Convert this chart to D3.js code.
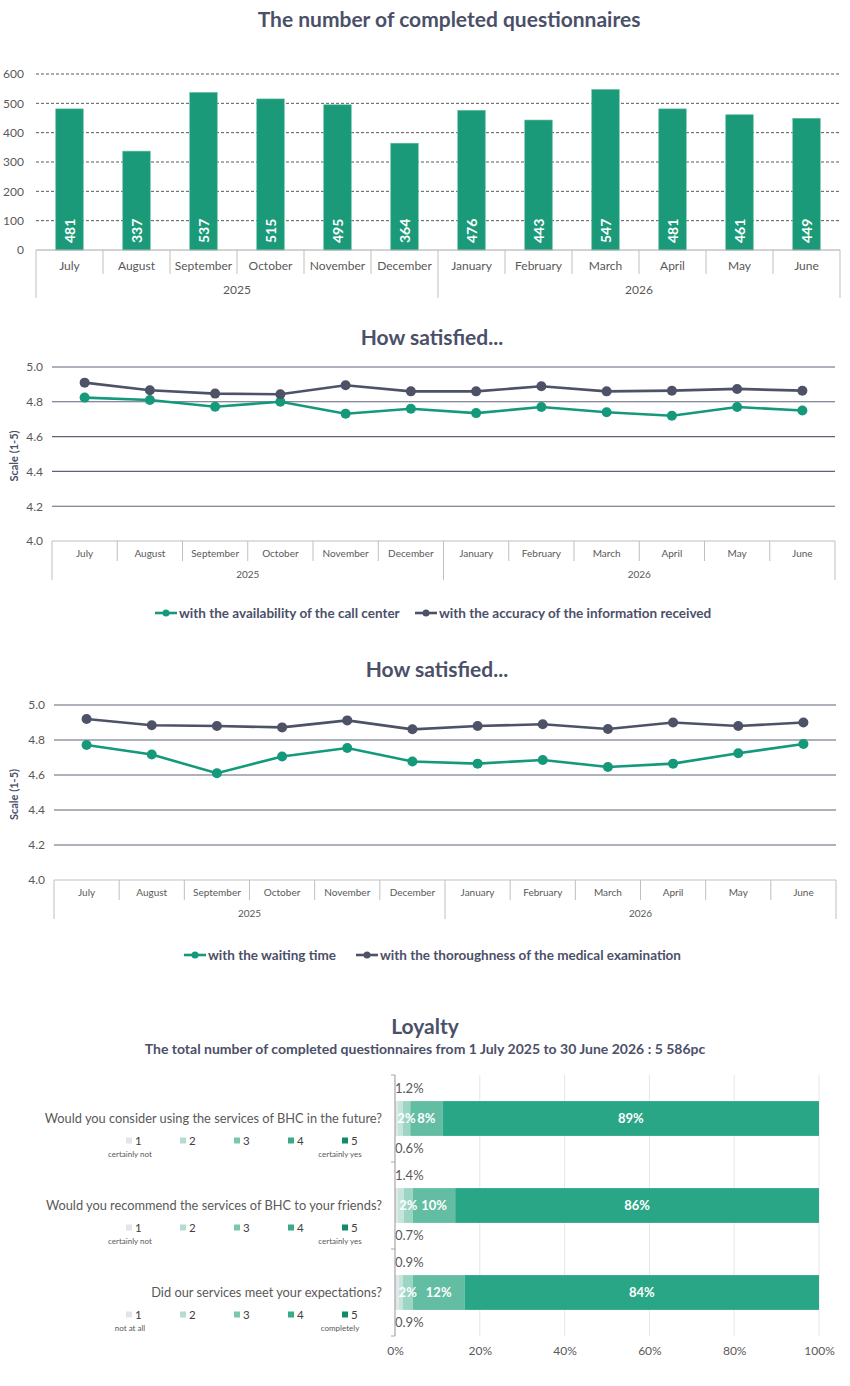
<!DOCTYPE html>
<html>
<head>
<meta charset="utf-8">
<script src="https://cdn.jsdelivr.net/npm/d3@7"></script>
<style>
  body { margin: 0; background: #fff; }
  svg { display: block; font-family: Lato, "Open Sans", sans-serif; }
</style>
</head>
<body>
<div id="chart"></div>
<script>
// ---- data
const months = ["July", "August", "September", "October", "November", "December",
  "January", "February", "March", "April", "May", "June"];
const monthYear = ["2025", "2025", "2025", "2025", "2025", "2025",
  "2026", "2026", "2026", "2026", "2026", "2026"];
const questionnaires = [481, 337, 537, 515, 495, 364, 476, 443, 547, 481, 461, 449];
const countTicks = [0, 100, 200, 300, 400, 500, 600];

const callCenter = [4.824, 4.81, 4.772, 4.80, 4.731, 4.76, 4.735, 4.77, 4.74, 4.72, 4.77, 4.75];
const infoAccuracy = [4.91, 4.866, 4.847, 4.843, 4.895, 4.86, 4.86, 4.889, 4.86, 4.864, 4.874, 4.864];
const waitingTime = [4.771, 4.717, 4.61, 4.706, 4.754, 4.677, 4.665, 4.686, 4.646, 4.665, 4.724, 4.777];
const examThoroughness = [4.92, 4.884, 4.88, 4.872, 4.912, 4.861, 4.88, 4.89, 4.863, 4.90, 4.88, 4.90];
const scaleTicks = [4.0, 4.2, 4.4, 4.6, 4.8, 5.0];

const questions = [
  "Would you consider using the services of BHC in the future?",
  "Would you recommend the services of BHC to your friends?",
  "Did our services meet your expectations?"
];
const scores = ["1", "2", "3", "4", "5"];
const lowEnd = ["certainly not", "certainly not", "not at all"];
const highEnd = ["certainly yes", "certainly yes", "completely"];
const futureUse = [0.6, 1.2, 1.8, 7.6, 88.8];
const recommend = [0.7, 1.4, 2.1, 10.0, 85.8];
const expectations = [0.9, 0.9, 2.4, 12.2, 83.6];
const percentTicks = [0, 20, 40, 60, 80, 100];

// ---- styles
const TITLE = "#4b5069";
const TXT = "#595959";
const GREEN = "#14997a";
const SLATE = "#4e5267";
const AXIS = "#bfbfbf";

const svg = d3.select("#chart").append("svg")
  .attr("width", 850)
  .attr("height", 1386);

function title(txt, x, y, size) {
  svg.append("text")
    .attr("x", x).attr("y", y)
    .attr("text-anchor", "middle")
    .attr("font-size", size)
    .attr("font-weight", "bold")
    .attr("fill", TITLE)
    .text(txt);
}

// two level month / year axis under a chart
function monthAxis(x, base, o) {
  const g = svg.append("g");
  const bw = x.bandwidth();
  g.selectAll("text.m").data(months).join("text")
    .attr("x", d => x(d) + bw / 2)
    .attr("y", base + o.monthDy)
    .attr("text-anchor", "middle")
    .attr("font-size", o.fs)
    .attr("fill", TXT)
    .text(d => d);

  const edges = months.map((m, i) => ({
    x: x(m),
    long: i === 0 || monthYear[i] !== monthYear[i - 1]
  }));
  edges.push({x: x(months[months.length - 1]) + bw, long: true});
  g.selectAll("line.sep").data(edges).join("line")
    .attr("x1", d => d.x).attr("x2", d => d.x)
    .attr("y1", base)
    .attr("y2", d => base + (d.long ? o.yearLen : o.sepLen))
    .attr("stroke", AXIS);

  const groups = d3.groups(months.map((m, i) => ({m, y: monthYear[i]})), d => d.y);
  g.selectAll("text.y").data(groups).join("text")
    .attr("x", d => (x(d[1][0].m) + x(d[1][d[1].length - 1].m) + bw) / 2)
    .attr("y", base + o.yearDy)
    .attr("text-anchor", "middle")
    .attr("font-size", o.fs)
    .attr("fill", TXT)
    .text(d => d[0]);
}

// ---------------- chart 1: completed questionnaires
title("The number of completed questionnaires", 449, 27, 21);

const x1 = d3.scaleBand().domain(months).range([36, 840]);
const xBar = d3.scaleBand().domain(months).range([36, 840])
  .paddingInner(0.59).paddingOuter(0.295);
const y1 = d3.scaleLinear().domain([0, 600]).range([250, 74]);

svg.append("g").selectAll("line").data(countTicks.filter(d => d > 0)).join("line")
  .attr("x1", 36).attr("x2", 840)
  .attr("y1", d => y1(d)).attr("y2", d => y1(d))
  .attr("stroke", "#5a5a5a")
  .attr("stroke-dasharray", "3,2");

svg.append("g")
  .attr("transform", "translate(36,0)")
  .call(d3.axisLeft(y1).tickValues(countTicks).tickSize(0).tickPadding(12))
  .call(g => g.select(".domain").remove())
  .selectAll("text")
  .attr("font-size", 12)
  .attr("font-family", "Lato")
  .attr("fill", TXT);

svg.append("g").selectAll("rect").data(questionnaires).join("rect")
  .attr("x", (d, i) => xBar(months[i]))
  .attr("width", xBar.bandwidth())
  .attr("y", d => y1(d))
  .attr("height", d => y1(0) - y1(d))
  .attr("fill", "#1a9a78")
  .attr("stroke", "#5cbba0")
  .attr("stroke-width", 0.6);

svg.append("g").selectAll("text").data(questionnaires).join("text")
  .attr("transform", (d, i) => `translate(${xBar(months[i]) + xBar.bandwidth() / 2},243) rotate(-90)`)
  .attr("dy", "0.36em")
  .attr("font-size", 14)
  .attr("font-weight", "bold")
  .attr("fill", "#fff")
  .text(d => d);

svg.append("line")
  .attr("x1", 36).attr("x2", 840).attr("y1", y1(0)).attr("y2", y1(0))
  .attr("stroke", "#a6a6a6");
monthAxis(x1, 250, {monthDy: 20, yearDy: 44, sepLen: 24, yearLen: 48, fs: 12});

// ---------------- line charts
function lineChart(o) {
  title("How satisfied...", o.titleX, o.titleY, 21);
  const x = d3.scaleBand().domain(months).range([o.left, o.right]);
  const y = d3.scaleLinear().domain([4, 5]).range([o.bottom, o.top]);

  svg.append("g").selectAll("line").data(scaleTicks.filter(d => d > 4)).join("line")
    .attr("x1", o.left).attr("x2", o.right)
    .attr("y1", d => y(d)).attr("y2", d => y(d))
    .attr("stroke", "#5f6377")
    .attr("stroke-width", 1.1);
  svg.append("line")
    .attr("x1", o.left).attr("x2", o.right).attr("y1", y(4)).attr("y2", y(4))
    .attr("stroke", AXIS);

  svg.append("g")
    .attr("transform", `translate(${o.left},0)`)
    .call(d3.axisLeft(y).tickValues(scaleTicks).tickFormat(d3.format(".1f")).tickSize(0).tickPadding(9))
    .call(g => g.select(".domain").remove())
    .selectAll("text")
    .attr("font-size", 12)
    .attr("font-family", "Lato")
    .attr("fill", TXT);

  svg.append("text")
    .attr("transform", `translate(18,${(o.top + o.bottom) / 2 + 2}) rotate(-90)`)
    .attr("text-anchor", "middle")
    .attr("font-size", 11)
    .attr("font-weight", "bold")
    .attr("fill", TITLE)
    .text("Scale (1-5)");

  monthAxis(x, o.bottom, {monthDy: 16, yearDy: 37, sepLen: 20, yearLen: 39, fs: 10});

  const cx = m => x(m) + x.bandwidth() / 2;
  const line = d3.line().x((d, i) => cx(months[i])).y(d => y(d));
  o.series.forEach(s => {
    svg.append("path")
      .datum(s.values)
      .attr("d", line)
      .attr("fill", "none")
      .attr("stroke", s.color)
      .attr("stroke-width", 2.6);
    svg.append("g").selectAll("circle").data(s.values).join("circle")
      .attr("cx", (d, i) => cx(months[i]))
      .attr("cy", d => y(d))
      .attr("r", 5)
      .attr("fill", s.color);
  });

  // legend
  o.series.forEach((s, k) => {
    const lx = o.legendX[k];
    svg.append("line")
      .attr("x1", lx).attr("x2", lx + 22)
      .attr("y1", o.legendY).attr("y2", o.legendY)
      .attr("stroke", s.color).attr("stroke-width", 2.6);
    svg.append("circle")
      .attr("cx", lx + 11).attr("cy", o.legendY).attr("r", 3.5)
      .attr("fill", s.color);
    svg.append("text")
      .attr("x", lx + 24).attr("y", o.legendY)
      .attr("dy", "0.35em")
      .attr("font-size", 13.5)
      .attr("font-weight", "bold")
      .attr("fill", TITLE)
      .text(s.name);
  });
}

lineChart({
  titleX: 432, titleY: 345, left: 52, right: 835, top: 367, bottom: 541,
  legendY: 613, legendX: [155, 415],
  series: [
    {name: "with the availability of the call center", values: callCenter, color: GREEN},
    {name: "with the accuracy of the information received", values: infoAccuracy, color: SLATE}
  ]
});

lineChart({
  titleX: 437, titleY: 677, left: 54, right: 836, top: 705, bottom: 880,
  legendY: 955, legendX: [184, 356],
  series: [
    {name: "with the waiting time", values: waitingTime, color: GREEN},
    {name: "with the thoroughness of the medical examination", values: examThoroughness, color: SLATE}
  ]
});

// ---------------- loyalty
title("Loyalty", 425, 1034, 21);
svg.append("text")
  .attr("x", 425).attr("y", 1054)
  .attr("text-anchor", "middle")
  .attr("font-size", 14)
  .attr("font-weight", "bold")
  .attr("fill", TITLE)
  .text("The total number of completed questionnaires from 1 July 2025 to 30 June 2026 : 5 586pc");

const answers = [futureUse, recommend, expectations];
const rows = questions.map((q, i) => {
  const r = {q};
  scores.forEach((s, j) => r[s] = answers[i][j]);
  return r;
});
const stacked = d3.stack().keys(scores)(rows);

const xL = d3.scaleLinear().domain([0, 100]).range([395, 819]);
const yL = d3.scaleBand().domain(questions).range([1075, 1336])
  .paddingInner(0.6).paddingOuter(0.3);
const segColors = ["#e3e6e9", "#c4e5da", "#9dd5c4", "#62bda2", "#29a685"];
const keyColors = ["#e2e4e8", "#b3ddd0", "#7cc6b0", "#3aa98a", "#0e8c68"];

svg.append("g").selectAll("line").data(percentTicks.filter(d => d > 0)).join("line")
  .attr("x1", d => xL(d)).attr("x2", d => xL(d))
  .attr("y1", 1075).attr("y2", 1336)
  .attr("stroke", "#e6e6e6");

svg.append("g")
  .attr("transform", "translate(0,1336)")
  .call(d3.axisBottom(xL).tickValues(percentTicks).tickFormat(d => d + "%").tickSize(0).tickPadding(10))
  .call(g => g.select(".domain").remove())
  .selectAll("text")
  .attr("font-size", 12)
  .attr("font-family", "Lato")
  .attr("fill", TXT);

stacked.forEach((layer, j) => {
  svg.append("g").selectAll("rect").data(layer).join("rect")
    .attr("x", d => xL(d[0]))
    .attr("width", d => xL(d[1]) - xL(d[0]))
    .attr("y", d => yL(d.data.q))
    .attr("height", yL.bandwidth())
    .attr("fill", segColors[j]);
});

stacked.forEach((layer, j) => {
  const lab = svg.append("g").selectAll("text").data(layer).join("text")
    .attr("font-size", 13)
    .text(d => j < 2 ? (d[1] - d[0]).toFixed(1) + "%" : Math.round(d[1] - d[0]) + "%");
  if (j < 2) {
    lab.attr("x", xL(0))
      .attr("y", d => j === 1 ? yL(d.data.q) - 8 : yL(d.data.q) + yL.bandwidth() + 17)
      .attr("fill", TXT);
  } else {
    lab.attr("x", d => xL((d[0] + d[1]) / 2))
      .attr("y", d => yL(d.data.q) + yL.bandwidth() / 2)
      .attr("dy", "0.36em")
      .attr("text-anchor", "middle")
      .attr("font-weight", "bold")
      .attr("fill", "#fff");
  }
});

// category axis of the loyalty bars
svg.append("line")
  .attr("x1", xL(0)).attr("x2", xL(0)).attr("y1", 1075).attr("y2", 1336)
  .attr("stroke", "#a6a6a6").attr("stroke-width", 1.2);
const qEdges = questions.map(q => yL(q) - yL.step() * yL.paddingOuter());
qEdges.push(1336);
svg.append("g").selectAll("line").data(qEdges).join("line")
  .attr("x1", xL(0) - 4).attr("x2", xL(0))
  .attr("y1", d => d).attr("y2", d => d)
  .attr("stroke", "#a6a6a6");

// question texts with their 1..5 keys
const keyX = d3.scalePoint().domain(scores).range([126, 342]);
questions.forEach((q, i) => {
  const cy = yL(q) + yL.bandwidth() / 2;
  svg.append("text")
    .attr("x", 382).attr("y", cy)
    .attr("dy", "0.35em")
    .attr("text-anchor", "end")
    .attr("font-size", 12.8)
    .attr("fill", TXT)
    .text(q);
  const g = svg.append("g");
  g.selectAll("rect").data(scores).join("rect")
    .attr("x", d => keyX(d)).attr("y", cy + 19)
    .attr("width", 6).attr("height", 6)
    .attr("fill", (d, j) => keyColors[j]);
  g.selectAll("text").data(scores).join("text")
    .attr("x", d => keyX(d) + 9).attr("y", cy + 22)
    .attr("dy", "0.35em")
    .attr("font-size", 11.5)
    .attr("fill", "#404040")
    .text(d => d);
  g.append("text")
    .attr("x", keyX("1") + 4).attr("y", cy + 38)
    .attr("text-anchor", "middle")
    .attr("font-size", 8)
    .attr("fill", TXT)
    .text(lowEnd[i]);
  g.append("text")
    .attr("x", keyX("5") - 2).attr("y", cy + 38)
    .attr("text-anchor", "middle")
    .attr("font-size", 8)
    .attr("fill", TXT)
    .text(highEnd[i]);
});
</script>
</body>
</html>
